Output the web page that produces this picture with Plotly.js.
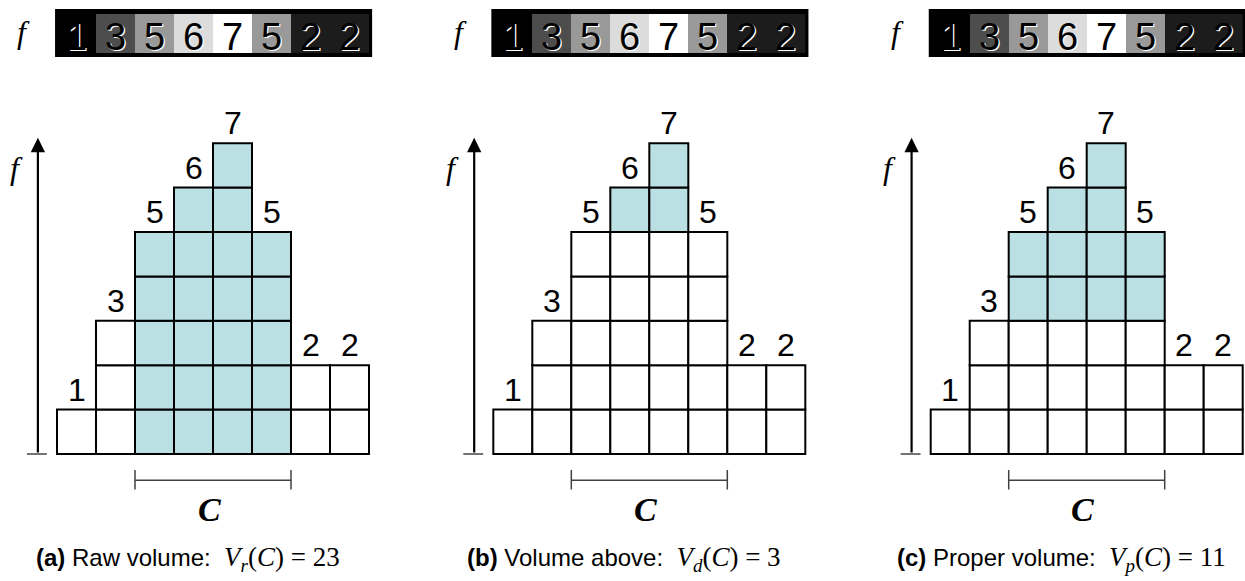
<!DOCTYPE html>
<html>
<head>
<meta charset="utf-8">
<script src="https://cdn.plot.ly/plotly-3.0.1.min.js"></script>
<style>
  html, body { margin: 0; padding: 0; background: #fff; }
  #chart { width: 1245px; height: 581px; }
</style>
</head>
<body>
<div id="chart"></div>
<script>
// Function values f over eight pixels, and the region C (columns 2..5)
const fValues = [1, 3, 5, 6, 7, 5, 2, 2];
const regionStart = 2;   // first column of C
const regionEnd = 6;     // one past the last column of C

// One panel per volume definition
const panelLetters = ['a', 'b', 'c'];
const panelNames = ['Raw volume', 'Volume above', 'Proper volume'];
const volumeSubscripts = ['r', 'd', 'p'];
const shadeFloors = [0, 5, 3];   // cells of C above this level are counted

// Styling
const SANS = 'Liberation Sans, Arial, sans-serif';
const SERIF = 'Liberation Serif, Times New Roman, serif';
const SHADE = '#bae0e3';
const STRIP_Y = [9.03, 9.91];
const grayScale = [
  [0, '#000000'], [1 / 6, '#1c1c1c'], [2 / 6, '#4d4d4d'], [3 / 6, '#737373'],
  [4 / 6, '#999999'], [5 / 6, '#dcdcdc'], [1, '#ffffff']
];

const xRanges = [[-1.4615, 9.1795], [-2.008, 8.633], [-2.582, 8.059]];
const xDomains = [[0, 415 / 1245], [415 / 1245, 830 / 1245], [830 / 1245, 1]];

const traces = [];
const shapes = [];
const annotations = [];
const layout = {
  width: 1245, height: 581,
  margin: { l: 0, r: 0, t: 0, b: 0 },
  paper_bgcolor: '#fff', plot_bgcolor: 'rgba(0,0,0,0)',
  showlegend: false,
  yaxis: { range: [-2.860, 10.225], domain: [0, 1], visible: false, fixedrange: true },
  shapes: shapes, annotations: annotations
};

const maxF = Math.max(...fValues);
const columnEdges = fValues.map((_, i) => i).concat([fValues.length]);

panelLetters.forEach((letter, p) => {
  const xa = p === 0 ? 'x' : 'x' + (p + 1);
  const axisKey = p === 0 ? 'xaxis' : 'xaxis' + (p + 1);
  layout[axisKey] = { range: xRanges[p], domain: xDomains[p], anchor: 'y', visible: false, fixedrange: true };

  // Grey-level strip of the function values
  shapes.push({ type: 'rect', xref: xa, yref: 'y', layer: 'below',
    x0: -0.05, x1: fValues.length + 0.08, y0: 8.94, y1: 10.02,
    fillcolor: '#000', line: { width: 0 } });
  traces.push({
    type: 'heatmap', xaxis: xa, yaxis: 'y',
    x: columnEdges, y: STRIP_Y, z: [fValues],
    zmin: 1, zmax: 7, colorscale: grayScale, showscale: false, hoverinfo: 'skip'
  });
  fValues.forEach((v, i) => {
    annotations.push({ xref: xa, yref: 'y', x: i + 0.5, y: 9.40, text: String(v), showarrow: false,
      xanchor: 'center', yanchor: 'middle',
      font: { family: SANS, size: 38, color: '#000', shadow: '1.2px 1.2px 0px #ffffff' } });
  });
  annotations.push({ xref: xa, yref: 'y', x: -0.85, y: 9.50, text: '<i>f</i>', showarrow: false,
    xanchor: 'center', yanchor: 'middle', font: { family: SERIF, size: 32, color: '#000' } });

  // Stacked unit cells
  let volume = 0;
  fValues.forEach((v, i) => {
    for (let j = 0; j < v; j++) {
      const inC = i >= regionStart && i < regionEnd;
      const shaded = inC && j >= shadeFloors[p];
      if (shaded) volume += 1;
      shapes.push({ type: 'rect', xref: xa, yref: 'y', x0: i, x1: i + 1, y0: j, y1: j + 1,
        fillcolor: shaded ? SHADE : '#ffffff', line: { color: '#000', width: 2 } });
    }
    annotations.push({ xref: xa, yref: 'y', x: i + 0.5, y: v + 0.45, text: String(v), showarrow: false,
      xanchor: 'center', yanchor: 'middle', font: { family: SANS, size: 32, color: '#000' } });
  });

  // Vertical f axis with arrow
  annotations.push({ xref: xa, yref: 'y', axref: xa, ayref: 'y',
    x: -0.49, y: maxF + 0.12, ax: -0.49, ay: 0, text: '', showarrow: true,
    arrowhead: 2, arrowsize: 1.3, arrowwidth: 2.2, arrowcolor: '#000' });
  shapes.push({ type: 'line', xref: xa, yref: 'y', x0: -0.77, x1: -0.26, y0: 0, y1: 0,
    line: { color: '#444', width: 1.5 } });
  annotations.push({ xref: xa, yref: 'y', x: -1.05, y: 6.44, text: '<i>f</i>', showarrow: false,
    xanchor: 'center', yanchor: 'middle', font: { family: SERIF, size: 32, color: '#000' } });

  // Bracket marking the region C
  shapes.push({ type: 'line', xref: xa, yref: 'y', x0: regionStart, x1: regionEnd, y0: -0.59, y1: -0.59,
    line: { color: '#404040', width: 1.5 } });
  [regionStart, regionEnd].forEach(xe => {
    shapes.push({ type: 'line', xref: xa, yref: 'y', x0: xe, x1: xe, y0: -0.36, y1: -0.80,
      line: { color: '#404040', width: 1.5 } });
  });
  annotations.push({ xref: xa, yref: 'y', x: (regionStart + regionEnd) / 2 - 0.1, y: -1.26,
    text: '<i>C</i>', showarrow: false, xanchor: 'center', yanchor: 'middle',
    font: { family: SERIF, size: 34, color: '#000', weight: 'bold' } });

  // Caption with the counted volume
  const math = '<span style="font-family:Liberation Serif;font-size:27px"><i>V</i><sub><i>' + volumeSubscripts[p] +
    '</i></sub>(<i>C</i>) = ' + volume + '</span>';
  annotations.push({ xref: xa, yref: 'y', x: 3.35, y: -2.36,
    text: '<b>(' + letter + ')</b> ' + panelNames[p] + ':  ' + math,
    showarrow: false, xanchor: 'center', yanchor: 'middle',
    font: { family: SANS, size: 24, color: '#000' } });
});

Plotly.newPlot('chart', traces, layout, { staticPlot: true, displayModeBar: false });
</script>
</body>
</html>
